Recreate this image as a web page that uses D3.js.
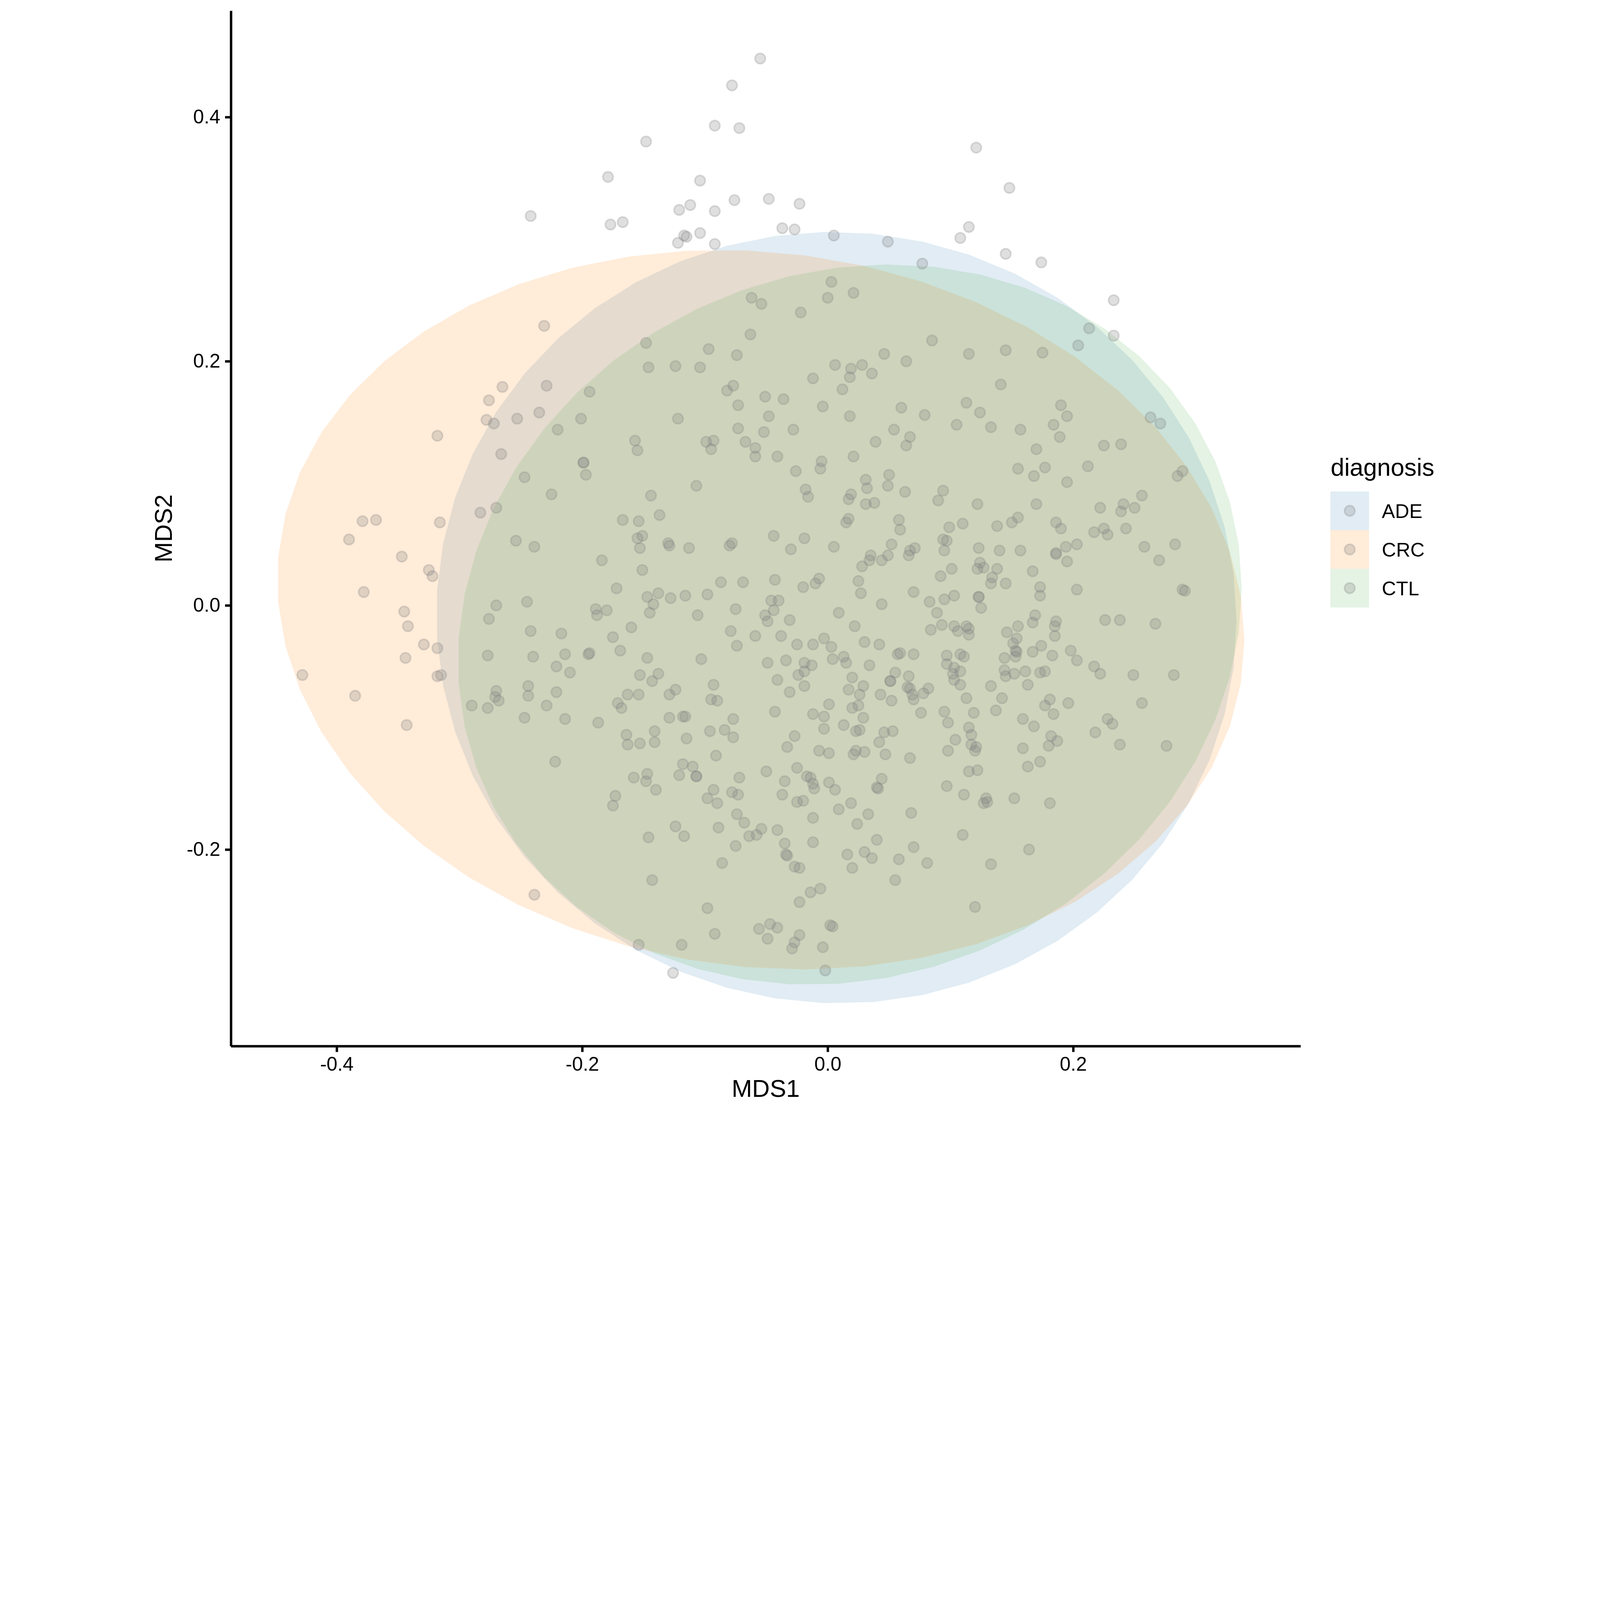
<!DOCTYPE html>
<html>
<head>
<meta charset="utf-8">
<script src="https://cdn.jsdelivr.net/npm/d3@7/dist/d3.min.js"></script>
<style>
  html, body { margin: 0; padding: 0; background: #ffffff; overflow: hidden; }
  #chart { display: block; width: 100vw; height: auto; }
  svg text { font-family: "Liberation Sans", Arial, Helvetica, sans-serif; }
</style>
</head>
<body>
<svg id="chart" viewBox="0 0 6000 4200" preserveAspectRatio="xMidYMid meet"></svg>
<script>
// ---------------- data ----------------
const groups = ["ADE", "CRC", "CTL"];
const groupColors = ["#377EB8", "#FF7F00", "#4DAF4A"];

// stat_ellipse shape per group (centre, x semi-axis, y shear, y semi-axis)
const ellipseCX = [0.0071, -0.0545, 0.0180];
const ellipseCY = [-0.0100, -0.0035, -0.0157];
const ellipseAX = [0.326, 0.394, 0.3193];
const ellipseBX = [-0.0025, -0.0247, 0.0298];
const ellipseBY = [0.316, 0.2937, 0.2935];

const xTicks = [-0.4, -0.2, 0.0, 0.2];
const yTicks = [-0.2, 0.0, 0.2, 0.4];

const mds1 = [
-0.242,-0.231,
-0.055,-0.078,-0.092,-0.072,-0.148,-0.179,-0.104,-0.112,-0.121,-0.092,-0.076,-0.048,-0.023,-0.167,-0.177,-0.117,-0.115,-0.104,-0.122,-0.092,-0.037,-0.027,0.005,0.049,0.077,0.003,0.021,0.000,-0.062,-0.054,-0.022,-0.063,-0.148,-0.097,-0.074,0.046,
0.121,0.148,0.115,0.108,0.145,0.174,0.233,0.213,0.233,0.204,0.085,0.115,0.145,0.175,
-0.265,-0.229,-0.276,-0.194,-0.278,-0.272,-0.253,-0.235,-0.201,-0.220,
-0.318,-0.266,-0.199,-0.199,-0.197,-0.247,-0.225,-0.270,-0.283,-0.379,
-0.368,-0.316,-0.390,-0.254,-0.239,-0.184,-0.347,-0.325,-0.322,-0.378,
-0.345,-0.342,-0.329,-0.318,-0.344,-0.270,-0.245,-0.276,-0.242,-0.217,
-0.189,-0.188,-0.180,-0.277,-0.240,-0.214,-0.195,-0.194,-0.221,
0.064,-0.146,-0.124,-0.104,0.006,0.019,0.028,0.036,0.018,-0.012,
0.012,-0.077,-0.082,-0.051,-0.036,-0.073,-0.004,0.018,0.060,
-0.048,-0.122,-0.073,-0.052,-0.028,0.054,0.067,0.039,0.064,-0.157,
-0.155,-0.099,-0.093,-0.095,-0.067,-0.059,-0.059,-0.041,0.021,-0.005,
-0.006,-0.026,0.031,0.050,0.049,0.032,0.063,-0.107,-0.144,-0.018,
-0.016,0.019,0.017,0.031,0.038,-0.137,-0.167,-0.154,0.017,0.015,
0.058,0.059,-0.155,-0.151,-0.153,-0.130,-0.129,-0.113,-0.080,-0.078,
-0.044,-0.019,-0.030,0.005,0.052,0.067,0.071,0.066,0.049,0.035,
0.034,0.044,0.028,-0.151,0.025,0.027,0.070,-0.172,-0.147,-0.138,
-0.142,-0.145,-0.128,-0.116,-0.098,-0.087,-0.069,-0.043,-0.007,-0.010,
-0.020,-0.046,-0.040,-0.044,-0.051,-0.049,-0.075,-0.106,-0.031,0.009,
0.044,0.022,-0.160,-0.175,-0.169,-0.147,-0.103,-0.079,-0.074,-0.059,
-0.038,-0.025,-0.012,-0.003,0.003,0.030,0.042,0.057,0.059,0.070,
-0.049,-0.034,-0.019,-0.013,0.004,0.013,0.015,0.034,
0.141,0.113,0.124,0.079,0.105,0.133,0.157,0.190,0.195,0.184,
0.189,0.170,0.225,0.239,0.263,0.271,0.155,0.168,0.177,0.195,
0.212,0.289,0.285,0.094,0.090,0.122,0.170,0.256,0.222,0.241,
0.239,0.250,0.099,0.110,0.138,0.150,0.155,0.186,0.190,0.217,
0.225,0.228,0.243,0.094,0.097,0.095,0.123,0.140,0.157,0.194,
0.203,0.186,0.186,0.195,0.258,0.283,0.270,
0.124,0.122,
0.127,0.138,0.134,0.133,0.145,0.101,0.092,0.167,0.173,0.173,
0.203,0.289,0.291,0.083,0.095,0.103,0.123,0.123,0.125,0.089,
0.169,0.167,0.186,0.185,0.185,0.226,0.238,0.267,0.084,0.093,
0.103,0.106,0.113,0.115,0.115,
0.146,0.155,0.154,0.151,
0.153,0.154,0.153,0.144,0.167,0.174,0.183,0.198,0.203,0.217,
0.097,0.097,0.108,0.111,0.103,
-0.428,-0.385,-0.343,-0.318,-0.315,-0.239,-0.290,-0.277,-0.270,-0.271,-0.268,-0.244,-0.244,-0.221,-0.229,-0.247,-0.214,-0.187,-0.222,-0.210,
-0.153,-0.138,-0.143,-0.163,-0.154,-0.171,-0.168,-0.129,-0.124,-0.093,
-0.095,-0.090,-0.129,-0.118,-0.116,-0.077,-0.164,-0.163,-0.153,-0.141,
-0.141,-0.115,-0.096,-0.084,-0.077,-0.091,-0.118,-0.110,-0.121,-0.107,
-0.107,-0.158,-0.147,-0.148,-0.140,-0.173,-0.175,-0.093,-0.098,-0.090,
-0.078,-0.073,-0.072,-0.050,-0.041,-0.024,-0.019,-0.031,-0.019,-0.043,
-0.027,-0.033,-0.025,-0.035,-0.037,-0.017,-0.014,-0.012,-0.011,-0.025,
-0.020,0.001,0.006,-0.012,-0.003,-0.003,0.001,-0.007,0.001,0.013,
0.020,0.017,0.029,0.026,0.025,0.020,0.029,0.023,0.026,0.023,
0.021,0.030,0.043,0.052,0.051,0.051,0.055,0.066,0.065,0.067,
0.069,0.070,
0.046,0.053,0.042,0.047,0.067,0.044,0.041,
0.040,0.019,0.009,0.033,-0.012,0.024,0.068,-0.074,-0.068,-0.089,
-0.124,-0.117,-0.146,-0.064,-0.058,-0.054,-0.041,-0.075,-0.035,-0.034,
-0.033,-0.012,-0.027,-0.023,0.016,0.030,0.036,0.040,0.020,0.058,
0.070,0.055,-0.086,-0.143,-0.014,-0.006,-0.023,-0.098,-0.092,-0.056,
-0.047,-0.041,-0.049,-0.023,-0.027,-0.029,0.002,0.004,-0.004,-0.002,
-0.154,-0.119,-0.126,
0.102,0.103,0.108,0.108,0.082,0.078,0.076,0.145,0.144,0.152,
0.161,0.173,0.177,0.222,
0.249,0.282,0.133,0.163,0.113,
0.142,0.095,0.098,0.119,0.137,0.115,0.117,0.104,0.117,0.121,
0.120,0.098,0.159,0.168,0.181,0.177,0.184,0.196,0.182,0.187,
0.180,0.159,0.173,0.163,0.115,0.122,0.097,0.111,0.129,0.130,
0.127,0.152,0.181,0.228,0.232,0.218,0.238,0.256,0.276,0.110,
0.164,0.081,0.133,0.120
];

const mds2 = [
0.319,0.229,
0.448,0.426,0.393,0.391,0.380,0.351,0.348,0.328,0.324,0.323,0.332,0.333,0.329,0.314,0.312,0.303,0.302,0.305,0.297,0.296,0.309,0.308,0.303,0.298,0.280,0.265,0.256,0.252,0.252,0.247,0.240,0.222,0.215,0.210,0.205,0.206,
0.375,0.342,0.310,0.301,0.288,0.281,0.250,0.227,0.221,0.213,0.217,0.206,0.209,0.207,
0.179,0.180,0.168,0.175,0.152,0.149,0.153,0.158,0.153,0.144,
0.139,0.124,0.117,0.117,0.107,0.105,0.091,0.080,0.076,0.069,
0.070,0.068,0.054,0.053,0.048,0.037,0.040,0.029,0.024,0.011,
-0.005,-0.017,-0.032,-0.035,-0.043,0.000,0.003,-0.011,-0.021,-0.023,
-0.003,-0.008,-0.004,-0.041,-0.042,-0.040,-0.040,-0.039,-0.050,
0.200,0.195,0.196,0.195,0.197,0.194,0.197,0.190,0.187,0.186,
0.177,0.180,0.176,0.171,0.169,0.164,0.163,0.155,0.162,
0.155,0.153,0.145,0.142,0.144,0.144,0.138,0.134,0.131,0.135,
0.127,0.134,0.135,0.128,0.134,0.129,0.122,0.122,0.122,0.118,
0.112,0.110,0.103,0.107,0.098,0.096,0.093,0.098,0.090,0.095,
0.089,0.091,0.087,0.083,0.084,0.074,0.070,0.069,0.071,0.068,
0.070,0.062,0.055,0.057,0.047,0.051,0.049,0.047,0.049,0.051,
0.057,0.055,0.046,0.048,0.050,0.045,0.047,0.041,0.041,0.041,
0.037,0.037,0.032,0.029,0.020,0.010,0.011,0.014,0.007,0.010,
0.001,-0.006,0.006,0.008,0.009,0.019,0.019,0.021,0.022,0.018,
0.015,0.004,0.004,-0.004,-0.008,-0.013,-0.003,-0.008,-0.012,-0.006,
0.001,-0.017,-0.018,-0.026,-0.037,-0.043,-0.044,-0.021,-0.033,-0.025,
-0.025,-0.032,-0.032,-0.027,-0.034,-0.030,-0.032,-0.040,-0.039,-0.040,
-0.047,-0.045,-0.047,-0.049,-0.044,-0.042,-0.047,-0.049,
0.181,0.166,0.158,0.156,0.148,0.146,0.144,0.164,0.155,0.148,
0.138,0.128,0.131,0.132,0.154,0.149,0.112,0.106,0.113,0.101,
0.114,0.110,0.106,0.094,0.086,0.083,0.083,0.090,0.080,0.083,
0.077,0.080,0.064,0.067,0.065,0.068,0.072,0.068,0.063,0.060,
0.063,0.058,0.063,0.054,0.053,0.045,0.047,0.045,0.045,0.048,
0.050,0.042,0.043,0.036,0.048,0.050,0.037,
0.035,0.030,
0.031,0.030,0.023,0.018,0.018,0.030,0.024,0.028,0.015,0.008,
0.013,0.013,0.012,0.003,0.005,0.008,0.007,0.007,-0.002,-0.006,
-0.008,-0.014,-0.013,-0.017,-0.025,-0.012,-0.012,-0.015,-0.020,-0.016,
-0.017,-0.021,-0.017,-0.019,-0.024,
-0.022,-0.017,-0.027,-0.031,
-0.037,-0.038,-0.042,-0.043,-0.038,-0.033,-0.041,-0.037,-0.045,-0.050,
-0.041,-0.048,-0.040,-0.042,-0.051,
-0.057,-0.074,-0.098,-0.058,-0.057,-0.237,-0.082,-0.084,-0.070,-0.075,-0.078,-0.066,-0.074,-0.071,-0.082,-0.092,-0.093,-0.096,-0.128,-0.055,
-0.057,-0.056,-0.062,-0.073,-0.073,-0.080,-0.084,-0.073,-0.069,-0.065,
-0.077,-0.078,-0.092,-0.091,-0.091,-0.093,-0.106,-0.114,-0.113,-0.103,
-0.112,-0.109,-0.103,-0.102,-0.108,-0.123,-0.130,-0.132,-0.139,-0.140,
-0.140,-0.141,-0.138,-0.144,-0.151,-0.156,-0.164,-0.151,-0.158,-0.162,
-0.153,-0.155,-0.141,-0.136,-0.061,-0.057,-0.054,-0.071,-0.066,-0.087,
-0.107,-0.116,-0.133,-0.144,-0.155,-0.140,-0.141,-0.146,-0.150,-0.161,
-0.160,-0.145,-0.151,-0.089,-0.091,-0.101,-0.081,-0.119,-0.121,-0.098,
-0.059,-0.069,-0.066,-0.073,-0.082,-0.084,-0.092,-0.103,-0.102,-0.119,
-0.122,-0.120,-0.073,-0.078,-0.062,-0.062,-0.055,-0.058,-0.067,-0.068,
-0.073,-0.077,
-0.104,-0.103,-0.112,-0.122,-0.125,-0.142,-0.150,
-0.149,-0.162,-0.167,-0.171,-0.174,-0.179,-0.170,-0.171,-0.178,-0.182,
-0.181,-0.189,-0.190,-0.189,-0.188,-0.183,-0.184,-0.197,-0.195,-0.204,
-0.205,-0.194,-0.214,-0.215,-0.204,-0.202,-0.207,-0.192,-0.215,-0.208,
-0.198,-0.225,-0.211,-0.225,-0.235,-0.232,-0.243,-0.248,-0.269,-0.265,
-0.261,-0.264,-0.273,-0.270,-0.276,-0.281,-0.262,-0.263,-0.280,-0.299,
-0.278,-0.278,-0.301,
-0.056,-0.061,-0.054,-0.065,-0.068,-0.072,-0.088,-0.058,-0.053,-0.056,
-0.054,-0.055,-0.054,-0.056,
-0.057,-0.057,-0.066,-0.065,-0.076,
-0.076,-0.087,-0.096,-0.088,-0.086,-0.100,-0.106,-0.110,-0.114,-0.116,
-0.119,-0.119,-0.093,-0.099,-0.077,-0.082,-0.089,-0.080,-0.107,-0.111,
-0.115,-0.117,-0.128,-0.132,-0.136,-0.135,-0.148,-0.155,-0.158,-0.161,
-0.162,-0.158,-0.162,-0.093,-0.097,-0.104,-0.114,-0.080,-0.115,-0.188,
-0.200,-0.211,-0.212,-0.247
];

// ---------------- layout ----------------
const svg = d3.select("#chart");
svg.append("rect").attr("width", 6000).attr("height", 4200).attr("fill", "#ffffff");

const panel = { left: 866, right: 4877, top: 40, bottom: 3923 };
const x = d3.scaleLinear().domain([-0.4862, 0.3852]).range([panel.left, panel.right]);
const y = d3.scaleLinear().domain([-0.361, 0.4872]).range([panel.bottom, panel.top]);

const pointColor = "#7F7F7F";
const pointAlpha = 0.25;
const pointR = 19.5;
const pointStroke = 6;
const fillAlpha = 0.15;

// ---------------- ellipses ----------------
const nSeg = 51;
const line = d3.line().x(d => x(d[0])).y(d => y(d[1]));
const gEll = svg.append("g");
groups.forEach((g, i) => {
  const pts = d3.range(nSeg + 1).map(k => {
    const t = 2 * Math.PI * k / nSeg;
    return [ellipseCX[i] + ellipseAX[i] * Math.cos(t),
            ellipseCY[i] + ellipseBX[i] * Math.cos(t) + ellipseBY[i] * Math.sin(t)];
  });
  gEll.append("path")
    .attr("d", line(pts) + "Z")
    .attr("fill", groupColors[i])
    .attr("fill-opacity", fillAlpha)
    .attr("stroke", "none");
});

// ---------------- points ----------------
const points = mds1.map((v, i) => [v, mds2[i]]);
svg.append("g").selectAll("circle").data(points).join("circle")
  .attr("cx", d => x(d[0]))
  .attr("cy", d => y(d[1]))
  .attr("r", pointR)
  .attr("fill", pointColor).attr("fill-opacity", pointAlpha)
  .attr("stroke", pointColor).attr("stroke-opacity", pointAlpha)
  .attr("stroke-width", pointStroke);

// ---------------- axes ----------------
const fmt = d => d.toFixed(1);
const axisX = svg.append("g").attr("transform", `translate(0,${panel.bottom})`)
  .call(d3.axisBottom(x).tickValues(xTicks).tickFormat(fmt).tickSize(22).tickSizeOuter(0).tickPadding(18));
const axisY = svg.append("g").attr("transform", `translate(${panel.left},0)`)
  .call(d3.axisLeft(y).tickValues(yTicks).tickFormat(fmt).tickSize(22).tickSizeOuter(0).tickPadding(18));
[axisX, axisY].forEach(a => {
  a.select(".domain").attr("stroke", "#000").attr("stroke-width", 9);
  a.selectAll(".tick line").attr("stroke", "#000").attr("stroke-width", 9);
  a.selectAll(".tick text").attr("fill", "#000")
    .style("font-size", "73px").style("font-family", "'Liberation Sans', Arial, sans-serif");
});

// axis titles
svg.append("text").attr("x", (panel.left + panel.right) / 2).attr("y", 4113)
  .attr("text-anchor", "middle").style("font-size", "92px").attr("fill", "#000").text("MDS1");
svg.append("text").attr("transform", `translate(645,${(panel.top + panel.bottom) / 2}) rotate(-90)`)
  .attr("text-anchor", "middle").style("font-size", "92px").attr("fill", "#000").text("MDS2");

// ---------------- legend ----------------
const leg = svg.append("g");
leg.append("text").attr("x", 4990).attr("y", 1784).style("font-size", "92px").attr("fill", "#000").text("diagnosis");
const keySize = 145, keyX = 4989, keyY = 1843;
groups.forEach((g, i) => {
  const ky = keyY + i * keySize;
  leg.append("rect").attr("x", keyX).attr("y", ky).attr("width", keySize).attr("height", keySize)
    .attr("fill", groupColors[i]).attr("fill-opacity", fillAlpha);
  leg.append("circle").attr("cx", keyX + keySize / 2).attr("cy", ky + keySize / 2).attr("r", pointR)
    .attr("fill", pointColor).attr("fill-opacity", pointAlpha)
    .attr("stroke", pointColor).attr("stroke-opacity", pointAlpha).attr("stroke-width", pointStroke);
  leg.append("text").attr("x", 5182).attr("y", ky + keySize / 2).attr("dy", "0.36em")
    .style("font-size", "74px").attr("fill", "#000").text(g);
});
</script>
</body>
</html>
